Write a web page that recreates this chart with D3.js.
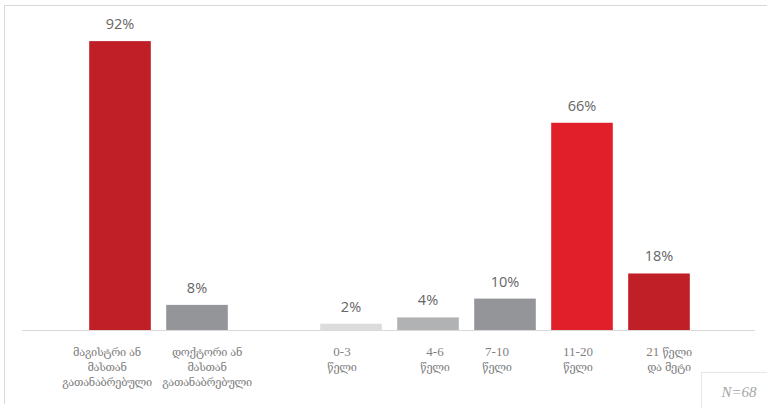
<!DOCTYPE html>
<html>
<head>
<meta charset="utf-8">
<script src="https://cdn.jsdelivr.net/npm/d3@7"></script>
<style>
  html, body { margin: 0; padding: 0; background: #fff; }
  svg { display: block; }
</style>
</head>
<body>
<svg id="chart" width="767" height="408"></svg>
<script>
// --- DATOS ---
const categories = [
  ["მაგისტრი ან", "მასთან", "გათანაბრებული"],
  ["დოქტორი ან", "მასთან", "გათანაბრებული"],
  ["0-3", "წელი"],
  ["4-6", "წელი"],
  ["7-10", "წელი"],
  ["11-20", "წელი"],
  ["21 წელი", "და მეტი"]
];
const values = [92, 8, 2, 4, 10, 66, 18];
const valueLabels = ["92%", "8%", "2%", "4%", "10%", "66%", "18%"];
const sampleNote = "N=68";

// --- ESTILO ---
const barColors = ["#c01f27", "#939598", "#dcdcdc", "#b1b2b4", "#939598", "#e01f2b", "#c01f27"];
const labelDx   = [-13, 10, -9, 7, -8, -4, 10];

const svg = d3.select("#chart");
const baseY = 330;

// slots: dos barras, hueco, cinco barras
const slots = ["s0", "s1", "gap", "s2", "s3", "s4", "s5", "s6"];

const x = d3.scaleBand()
  .domain(slots)
  .range([81.5, 81.5 + 8 * 77])
  .paddingInner(0.2)
  .paddingOuter(0.1);

const y = d3.scaleLinear()
  .domain([0, 100])
  .range([baseY, baseY - 314]);

// marco
svg.append("path")
  .attr("d", "M4.5,404 V5.5 H767")
  .attr("fill", "none").attr("stroke", "#d9d9d9").attr("stroke-width", 1);

// línea base
svg.append("line")
  .attr("x1", 22).attr("x2", 755)
  .attr("y1", baseY + 0.5).attr("y2", baseY + 0.5)
  .attr("stroke", "#d9d9d9").attr("stroke-width", 1);

const data = values.map((v, i) => ({ v, i, slot: "s" + i }));

svg.append("g").selectAll("rect")
  .data(data)
  .join("rect")
    .attr("x", d => x(d.slot))
    .attr("width", x.bandwidth())
    .attr("y", d => y(d.v))
    .attr("height", d => baseY - y(d.v))
    .attr("fill", d => barColors[d.i]);

svg.append("g").selectAll("text")
  .data(data)
  .join("text")
    .attr("x", d => x(d.slot) + x.bandwidth() / 2)
    .attr("y", d => y(d.v) - 12)
    .attr("text-anchor", "middle")
    .style("font-family", "'Open Sans', 'DejaVu Sans', sans-serif")
    .style("font-size", "14.5px")
    .attr("fill", "#666")
    .text(d => valueLabels[d.i]);

// etiquetas del eje: trozos georgianos más pequeños que los dígitos
const isGeo = s => /[\u10A0-\u10FF]/.test(s);
const runs = line => line.match(/[\u10A0-\u10FF]+|[^\u10A0-\u10FF]+/g);

const lbl = svg.append("g").selectAll("text")
  .data(data)
  .join("text")
    .attr("text-anchor", "middle")
    .style("font-family", "'Liberation Serif', 'DejaVu Serif', serif")
    .attr("fill", "#7f7f7f");

lbl.each(function (d) {
  const cx = x(d.slot) + x.bandwidth() / 2 + labelDx[d.i];
  d3.select(this).selectAll("tspan.line")
    .data(categories[d.i])
    .join("tspan")
      .attr("class", "line")
      .attr("x", cx)
      .attr("y", (t, k) => 356 + k * 15)
    .selectAll("tspan")
    .data(t => runs(t))
    .join("tspan")
      .style("font-size", r => isGeo(r) ? "11px" : "13px")
      .style("letter-spacing", r => isGeo(r) ? "-0.3px" : "0px")
      .text(r => r);
});

// nota N
svg.append("rect")
  .attr("x", 701.5).attr("y", 372.5)
  .attr("width", 80).attr("height", 50)
  .attr("fill", "#fff").attr("stroke", "#e6e6e6");
svg.append("text")
  .attr("x", 739).attr("y", 397)
  .attr("text-anchor", "middle")
  .style("font-family", "'Liberation Serif', serif")
  .style("font-style", "italic")
  .style("font-size", "15px")
  .attr("fill", "#a6a6a6")
  .text(sampleNote);
</script>
</body>
</html>
